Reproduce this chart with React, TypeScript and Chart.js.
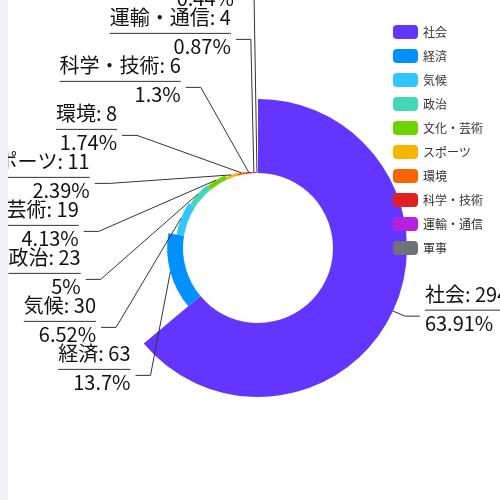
import React, { useEffect, useRef } from 'react';
import { Chart, registerables, DoughnutController } from 'chart.js';

Chart.register(...registerables);

const categories = ['社会', '経済', '気候', '政治', '文化・芸術', 'スポーツ', '環境', '科学・技術', '運輸・通信', '軍事'];
const counts = [294, 63, 30, 23, 19, 11, 8, 6, 4, 2];
const colors = ['#6236FF', '#0091FF', '#32C5FF', '#44D7B6', '#6DD400', '#F7B500', '#FA6400', '#E02020', '#B620E0', '#6D7278'];

const LABEL_FONT = '20px "Noto Sans CJK JP", "Noto Sans", sans-serif';
const LEGEND_FONT = '12px "Noto Sans CJK JP", "Noto Sans", sans-serif';
const LINE_LEN = 12; // first segment of the label line
const LINE_LEN2 = 15; // horizontal segment
const LABEL_GAP = 48; // vertical room per label

// percentages rounded to 2 decimals that still add up to 100 (largest remainder)
function percents(vals: number[], digits = 2): number[] {
  const total = vals.reduce((a, b) => a + b, 0);
  const scale = Math.pow(10, digits);
  const target = 100 * scale;
  const raw = vals.map(v => (v / total) * target);
  const seats = raw.map(r => Math.floor(r));
  const left = target - seats.reduce((a, b) => a + b, 0);
  const order = raw.map((_, i) => i).sort((a, b) => (raw[b] - seats[b]) - (raw[a] - seats[a]));
  for (let k = 0; k < left; k++) seats[order[k]]++;
  return seats.map(s => s / scale);
}

// push labels apart with as little movement as possible
function spreadLabels(wanted: number[], gap: number): number[] {
  const groups: { n: number; sum: number }[] = [];
  wanted.forEach(y => {
    let g = { n: 1, sum: y };
    while (groups.length) {
      const prev = groups[groups.length - 1];
      if (prev.sum / prev.n + prev.n * gap <= g.sum / g.n) break;
      prev.sum += g.sum - gap * prev.n * g.n;
      prev.n += g.n;
      groups.pop();
      g = prev;
    }
    groups.push(g);
  });
  const out: number[] = [];
  groups.forEach(g => {
    const top = g.sum / g.n;
    for (let k = 0; k < g.n; k++) out.push(top + k * gap);
  });
  return out;
}

// doughnut whose slice length follows the value (rose / nightingale style)
class RoseController extends DoughnutController {
  static id = 'roseDoughnut';
  updateElement(el: any, index: number, props: any, mode: any) {
    if (props && props.outerRadius !== undefined) {
      const parsed = (this as any)._cachedMeta._parsed as number[];
      const max = Math.max(...parsed);
      props.outerRadius = props.innerRadius + ((props.outerRadius - props.innerRadius) * parsed[index]) / max;
    }
    super.updateElement(el, index, props, mode);
  }
}
Chart.register(RoseController);

const labelPlugin = {
  id: 'outsideLabels',
  afterDatasetsDraw(chart: any) {
    const ctx: CanvasRenderingContext2D = chart.ctx;
    const arcs = chart.getDatasetMeta(0).data;
    if (!arcs.length) return;
    const pct = percents(counts);
    const maxR = Math.max(...arcs.map((a: any) => a.outerRadius));
    const rA = maxR + 11;
    const rB = maxR + 23;
    const cx = arcs[0].x;
    const cy = arcs[0].y;

    const items = arcs.map((arc: any, i: number) => {
      const mid = (arc.startAngle + arc.endAngle) / 2;
      const cos = Math.cos(mid);
      const sin = Math.sin(mid);
      const ax = arc.x + arc.outerRadius * cos;
      const ay = arc.y + arc.outerRadius * sin;
      return { i, mid, side: cos >= 0 ? 1 : -1, ax, ay, want: ay + sin * LINE_LEN, y: 0 };
    });

    [1, -1].forEach(side => {
      const list = items.filter((it: any) => it.side === side);
      list.sort((a: any, b: any) => (side > 0 ? a.mid - b.mid : b.mid - a.mid));
      const ys = spreadLabels(list.map((it: any) => it.want), LABEL_GAP);
      list.forEach((it: any, k: number) => (it.y = ys[k]));
    });

    ctx.save();
    ctx.font = LABEL_FONT;
    items.forEach((it: any) => {
      const dy = it.y - cy;
      const q = 1 - (dy * dy) / (rB * rB);
      let bendX = cx + it.side * rA * Math.sqrt(Math.max(0, q));
      bendX = it.side > 0 ? Math.max(bendX, it.ax + 3) : Math.min(bendX, it.ax - 3);
      const endX = bendX + it.side * LINE_LEN2;

      ctx.strokeStyle = '#333';
      ctx.lineWidth = 1;
      ctx.beginPath();
      ctx.moveTo(it.ax, it.ay);
      ctx.lineTo(bendX, it.y);
      ctx.lineTo(endX, it.y);
      ctx.stroke();

      const name = `${categories[it.i]}: ${counts[it.i]}`;
      const per = `${pct[it.i]}%`;
      const textX = endX + it.side * 5;
      const w = Math.max(ctx.measureText(name).width, ctx.measureText(per).width);
      ctx.fillStyle = '#111';
      ctx.textBaseline = 'middle';
      ctx.textAlign = it.side > 0 ? 'left' : 'right';
      ctx.fillText(name, textX, it.y - 22);
      ctx.fillText(per, textX, it.y + 7);

      ctx.beginPath();
      ctx.moveTo(textX, it.y - 6);
      ctx.lineTo(textX + it.side * w, it.y - 6);
      ctx.stroke();
    });

    // legend
    const lx = 385;
    const ly = 25;
    ctx.font = LEGEND_FONT;
    ctx.textAlign = 'left';
    ctx.textBaseline = 'middle';
    categories.forEach((c, i) => {
      const y = ly + i * 24;
      ctx.fillStyle = colors[i];
      ctx.beginPath();
      ctx.roundRect(lx, y, 25, 14, 4);
      ctx.fill();
      ctx.fillStyle = '#333';
      ctx.fillText(c, lx + 30, y + 7.5);
    });
    ctx.restore();
  },
};

const App: React.FC = () => {
  const canvasRef = useRef<HTMLCanvasElement>(null);

  useEffect(() => {
    if (!canvasRef.current) return;
    const chart = new Chart(canvasRef.current, {
      type: 'roseDoughnut' as any,
      data: {
        labels: categories,
        datasets: [
          {
            data: counts,
            backgroundColor: colors,
            borderWidth: 0,
          },
        ],
      },
      options: {
        responsive: false,
        animation: false,
        cutout: 75,
        layout: { padding: { left: 101, right: 101, top: 99, bottom: 103 } },
        plugins: {
          legend: { display: false },
          tooltip: { enabled: false },
        },
      } as any,
      plugins: [labelPlugin],
    });
    return () => chart.destroy();
  }, []);

  return (
    <div style={{ position: 'fixed', inset: 0, background: '#f1f2f8', overflow: 'hidden' }}>
      <div style={{ position: 'absolute', left: 8, top: 0, width: 500, height: 500, background: '#fff' }}>
        <canvas ref={canvasRef} width={500} height={500} />
      </div>
    </div>
  );
};

export default App;
